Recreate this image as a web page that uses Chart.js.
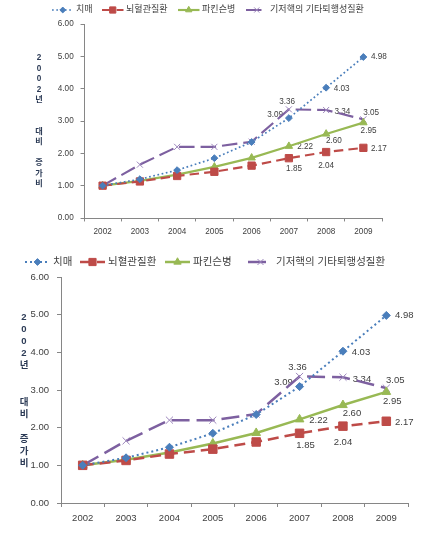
<!DOCTYPE html>
<html>
<head>
<meta charset="utf-8">
<script src="https://cdn.jsdelivr.net/npm/chart.js@4"></script>
<style>
  body { margin: 0; background: #fff; width: 427px; height: 533px; overflow: hidden; position: relative; }
  .box { position: absolute; left: 0; width: 427px; }
</style>
</head>
<body>
<div class="box" style="top:0;height:250px"><canvas id="chartTop"></canvas></div>
<div class="box" style="top:255px;height:278px"><canvas id="chartBottom"></canvas></div>
<script>
// --- data (ratio to 2002) ---
const years = ["2002", "2003", "2004", "2005", "2006", "2007", "2008", "2009"];
const seriesNames = ["치매", "뇌혈관질환", "파킨슨병", "기저핵의 기타퇴행성질환"];
const dementia  = [1.00, 1.20, 1.48, 1.85, 2.35, 3.09, 4.03, 4.98];
const cerebro   = [1.00, 1.13, 1.30, 1.43, 1.62, 1.85, 2.04, 2.17];
const parkinson = [1.00, 1.15, 1.34, 1.58, 1.86, 2.22, 2.60, 2.95];
const basal     = [1.00, 1.65, 2.20, 2.20, 2.36, 3.36, 3.34, 3.05];
const yTitleChars = ["2", "0", "0", "2", "년", "", "", "대", "비", "", "증", "가", "비"];
const firstLabelled = 5; // values shown from 2007 on

const FONT = "'Liberation Sans', 'Noto Sans CJK KR', sans-serif";
const TEXT = "#404040";

// label centre offsets from the point (px at full size), 2007..2009
const labelOffsets = [
  [[-16, -4], [18, 1], [18, 0]],
  [[6, 12], [0, 16], [18, 1]],
  [[19, 1], [9, 8], [6, 9]],
  [[-2, -9], [19, 2], [9, -8]]
];

function makeDatasets(s) {
  return [
    { label: seriesNames[0], data: dementia, borderColor: "#4A7EBB", backgroundColor: "#4A7EBB",
      borderWidth: 2 * s, borderDash: [2 * s, 3 * s], pointStyle: "rectRot", pointRadius: 4 * s,
      pointBorderWidth: 1 },
    { label: seriesNames[1], data: cerebro, borderColor: "#BE4B48", backgroundColor: "#BE4B48",
      borderWidth: 2.5 * s, borderDash: [11 * s, 6 * s], pointStyle: "rect", pointRadius: 6 * s,
      pointBorderWidth: 1 },
    { label: seriesNames[2], data: parkinson, borderColor: "#98B954", backgroundColor: "#98B954",
      borderWidth: 2.5 * s, pointStyle: "triangle", pointRadius: 5 * s, pointBorderWidth: 1 },
    { label: seriesNames[3], data: basal, borderColor: "#7D60A0", backgroundColor: "#7D60A0",
      borderWidth: 2.5 * s, borderDash: [18 * s, 7 * s], pointStyle: "crossRot", pointRadius: 5 * s,
      pointBorderWidth: 1, pointBorderColor: "#9C86BC" }
  ];
}

function makeChart(id, o) {
  const s = o.s;
  const fs = 9.5 * s;

  const extras = {
    id: "extras",
    beforeDatasetsDraw(chart) {
      // value labels (lines are drawn over them, as in the picture)
      const ctx = chart.ctx;
      ctx.save();
      ctx.font = fs + "px " + FONT;
      ctx.fillStyle = TEXT;
      ctx.textAlign = "center";
      ctx.textBaseline = "middle";
      chart.data.datasets.forEach((ds, di) => {
        const meta = chart.getDatasetMeta(di);
        for (let i = firstLabelled; i < ds.data.length; i++) {
          const p = meta.data[i];
          const off = labelOffsets[di][i - firstLabelled];
          ctx.fillText(ds.data[i].toFixed(2), p.x + off[0] * s, p.y + off[1] * s);
        }
      });
      ctx.restore();
    },
    afterDraw(chart) {
      const ctx = chart.ctx;
      ctx.save();
      // legend
      ctx.font = (10.5 * s) + "px " + FONT;
      ctx.textBaseline = "middle";
      chart.data.datasets.forEach((ds, di) => {
        const x = o.legendX[di];
        const y = o.legendY;
        const L = 25 * s;
        ctx.save();
        ctx.strokeStyle = ds.borderColor;
        ctx.lineWidth = ds.borderWidth;
        ctx.setLineDash(ds.borderDash || []);
        ctx.beginPath();
        ctx.moveTo(x, y);
        ctx.lineTo(x + L, y);
        ctx.stroke();
        ctx.restore();
        ctx.fillStyle = ds.backgroundColor;
        ctx.strokeStyle = ds.pointBorderColor || ds.borderColor;
        ctx.lineWidth = 1;
        Chart.helpers.drawPoint(ctx, { pointStyle: ds.pointStyle, radius: ds.pointRadius * 0.85, borderWidth: 1 }, x + L / 2, y);
        ctx.fillStyle = TEXT;
        ctx.textAlign = "left";
        ctx.fillText(ds.label, x + L + 3 * s, y);
      });
      // vertical y-axis title, one character per line
      ctx.font = "bold " + fs + "px " + FONT;
      ctx.fillStyle = "#2B3A55";
      ctx.textAlign = "center";
      yTitleChars.forEach((c, i) => {
        if (c) ctx.fillText(c, o.titleX, o.titleY + i * 12.2 * s);
      });
      ctx.restore();
    }
  };

  return new Chart(document.getElementById(id).getContext("2d"), {
    type: "line",
    data: { labels: years, datasets: makeDatasets(s) },
    options: {
      responsive: true,
      maintainAspectRatio: false,
      animation: false,
      layout: { padding: o.padding },
      plugins: { legend: { display: false }, tooltip: { enabled: false } },
      elements: { line: { tension: 0 } },
      scales: {
        x: {
          offset: true,
          grid: { display: true, drawOnChartArea: false, offset: true, color: "#868686", tickLength: 4 * s },
          border: { color: "#868686" },
          ticks: { color: TEXT, font: { family: FONT, size: fs }, padding: 6 * s, maxRotation: 0 },
          afterFit(scale) { scale.height = o.xHeight; }
        },
        y: {
          min: 0, max: 6,
          grid: { display: true, drawOnChartArea: false, color: "#868686", tickLength: 4 * s },
          border: { color: "#868686" },
          ticks: { stepSize: 1, color: TEXT, font: { family: FONT, size: fs }, padding: 8 * s,
            callback: v => v.toFixed(2) },
          afterFit(scale) { scale.width = o.yWidth; }
        }
      }
    },
    plugins: [extras]
  });
}

makeChart("chartTop", {
  s: 0.86,
  padding: { top: 24, left: 0, right: 45, bottom: 0 },
  yWidth: 84, xHeight: 32,
  legendX: [52, 102, 178, 246], legendY: 10,
  titleX: 39, titleY: 58
});

makeChart("chartBottom", {
  s: 1,
  padding: { top: 22, left: 0, right: 19, bottom: 0 },
  yWidth: 61, xHeight: 30,
  legendX: [25, 80, 165, 248], legendY: 7,
  titleX: 24, titleY: 62
});
</script>
</body>
</html>
